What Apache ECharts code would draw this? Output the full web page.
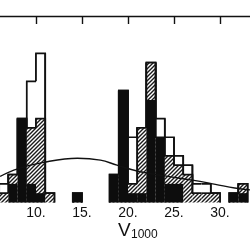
<!DOCTYPE html>
<html>
<head>
<meta charset="utf-8">
<script src="https://cdn.jsdelivr.net/npm/echarts@6/dist/echarts.min.js"></script>
<style>
  html, body { margin: 0; padding: 0; background: #fff; }
  #main { width: 250px; height: 250px; }
</style>
</head>
<body>
<div id="main"></div>
<script>
// bins are [start, start + 1] in V1000
var bins    = [6, 7, 8, 9, 10, 11, 12, 13, 14, 15, 16, 17, 18, 19, 20, 21, 22, 23, 24, 25, 26, 27, 28, 29, 30, 31, 32, 33];
var white   = [2, 3, 9, 13, 16, 1, 0, 0, 1, 0, 0, 0, 3, 12, 7, 8, 15, 9, 7, 5, 4, 2, 2, 1, 0, 1, 2, 0];
var hatched = [1, 3, 9, 8, 9, 1, 0, 0, 1, 0, 0, 0, 3, 12, 2, 8, 15, 7, 5, 4, 3, 1, 1, 1, 0, 1, 2, 0];
var black   = [0, 2, 9, 2, 1, 0, 0, 0, 1, 0, 0, 0, 3, 12, 1, 1, 11, 7, 2, 2, 0, 0, 0, 0, 0, 1, 1, 0];

// smooth curve
var curveX = [6.1, 8, 10.8, 14.5, 17, 18.8, 21.1, 24, 27, 29.5, 31.6, 33.3];
var curveY = [2.8, 3.6, 4.3, 4.75, 4.55, 4.0, 3.35, 2.85, 2.4, 1.95, 1.55, 1.35];

var tickValues = [10, 15, 20, 25, 30];

// diagonal hatch
var hatch = document.createElement("canvas");
hatch.width = 4;
hatch.height = 4;
var ctx = hatch.getContext("2d");
ctx.fillStyle = "#fff";
ctx.fillRect(0, 0, 4, 4);
ctx.strokeStyle = "#1a1a1a";
ctx.lineWidth = 1.4;
ctx.beginPath();
ctx.moveTo(0, 4); ctx.lineTo(4, 0);
ctx.moveTo(-1, 1); ctx.lineTo(1, -1);
ctx.moveTo(3, 5); ctx.lineTo(5, 3);
ctx.stroke();

function histItem(values, fill, outline) {
  return function (params, api) {
    var i = params.dataIndex;
    var x0 = api.value(0);
    var h = api.value(1);
    if (!h) return { type: "group", children: [] };
    var prev = i > 0 ? values[i - 1] : 0;
    var next = i < values.length - 1 ? values[i + 1] : 0;
    var bl = api.coord([x0, 0]);
    var tr = api.coord([x0 + 1, h]);
    var yPrev = api.coord([x0, prev])[1];
    var yNext = api.coord([x0, next])[1];
    var children = [{
      type: "rect",
      shape: { x: bl[0], y: tr[1], width: tr[0] - bl[0], height: bl[1] - tr[1] },
      style: { fill: fill }
    }];
    if (outline) {
      children.push({
        type: "polyline",
        shape: { points: [[bl[0], yPrev], [bl[0], tr[1]], [tr[0], tr[1]], [tr[0], yNext]] },
        style: { stroke: "#111", lineWidth: 1.7, fill: null }
      });
    }
    return { type: "group", children: children };
  };
}

function toData(values) {
  return bins.map(function (b, i) { return [b, values[i]]; });
}

var myChart = echarts.init(document.getElementById("main"));

var option = {
  animation: false,
  grid: { left: 0, right: 0, top: 16, bottom: 47.5, outerBoundsMode: "none" },
  xAxis: [
    {
      type: "value",
      min: 6.087,
      max: 33.26,
      position: "bottom",
      axisLine: { show: false },
      axisTick: { show: false },
      splitLine: { show: false },
      axisLabel: {
        customValues: tickValues,
        formatter: function (v) { return v + "."; },
        color: "#111",
        fontFamily: "Liberation Sans",
        fontSize: 14,
        margin: 4
      }
    },
    {
      type: "value",
      min: 6.087,
      max: 33.26,
      position: "top",
      axisLine: { show: true, lineStyle: { color: "#111", width: 1.4 } },
      axisTick: { show: true, inside: true, length: 8, customValues: tickValues, lineStyle: { color: "#111", width: 1.4 } },
      axisLabel: { show: false },
      splitLine: { show: false }
    }
  ],
  yAxis: { type: "value", min: 0, max: 20, show: false },
  graphic: [
    { type: "text", left: 118, top: 221, style: { text: "V", font: "19px Liberation Sans", fill: "#111" } },
    { type: "text", left: 131, top: 229, style: { text: "1000", font: "12px Liberation Sans", fill: "#111" } }
  ],
  series: [
    { name: "all", type: "custom", renderItem: histItem(white, "#fff", true), data: toData(white) },
    { name: "hatched", type: "custom", renderItem: histItem(hatched, { image: hatch, repeat: "repeat" }, true), data: toData(hatched) },
    { name: "black", type: "custom", renderItem: histItem(black, "#0d0d0d", false), data: toData(black) },
    {
      name: "curve",
      type: "line",
      smooth: 0.4,
      showSymbol: false,
      lineStyle: { color: "#111", width: 1.4 },
      data: curveX.map(function (x, i) { return [x, curveY[i]]; })
    }
  ]
};

myChart.setOption(option);
</script>
</body>
</html>
